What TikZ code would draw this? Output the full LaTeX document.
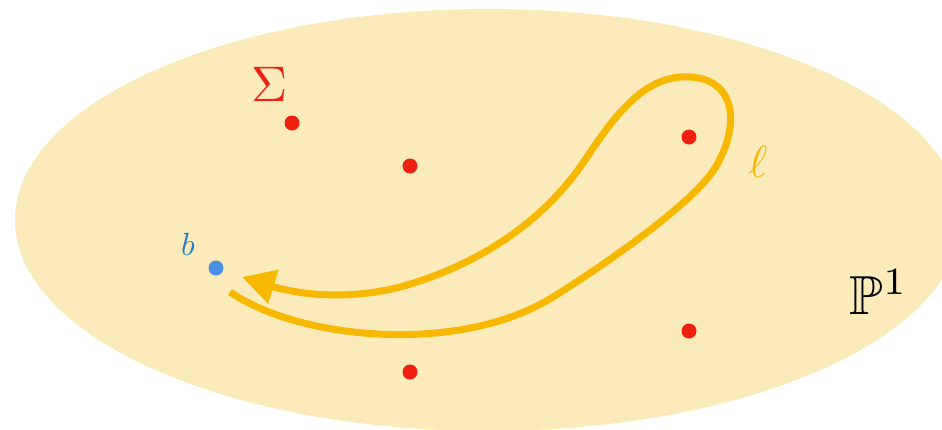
\documentclass[tikz,border=0pt]{standalone}
\usepackage{amsmath, amssymb}
\usepackage{graphicx}
\usepackage{tikz}
\usetikzlibrary{arrows.meta,positioning}

\definecolor{sheet}{HTML}{FCEBBA}
\definecolor{loopcol}{HTML}{F6B800}
\definecolor{branch}{HTML}{EE2010}
\definecolor{basept}{HTML}{4A90E2}
\definecolor{baselbl}{HTML}{1F7EC1}

\begin{document}
\begin{tikzpicture}[x=1pt, y=-1pt,
    pt/.style={circle, fill=branch, inner sep=0pt, minimum size=15pt},
    lbl/.style={inner sep=0pt}]
    \useasboundingbox (0,0) rectangle (942,429);
    \fill[sheet] (488,220) ellipse [x radius=473, y radius=211];

    \node[pt] (s1) at (292,123) {};
    \node[pt] (s2) at (410,166) {};
    \node[pt] (s3) at (689,137) {};
    \node[pt] (s4) at (689,331) {};
    \node[pt] (s5) at (410,372) {};
    \node[pt, fill=basept] (b) at (216,268) {};

    \node[lbl, text=branch] (sigma) at (270,84) {\scalebox{5}{$\Sigma$}};
    \node[lbl, text=baselbl] (blbl) at (188,244) {\scalebox{3.2}{$b$}};
    \node[lbl, text=loopcol] (ell) at (758,162) {\scalebox{4.5}{$\ell$}};
    \node[lbl] (P) at (879,292) {\scalebox{5.5}{$\mathbb{P}^1$}};

    \coordinate (start) at (230,292);
    \coordinate (tip) at (242,277);
    \draw[loopcol, line width=7pt, -{Triangle[length=33pt, width=34pt]}]
        (start) .. controls (300,340) and (460,355) .. (553,297)
        .. controls (620,255) and (695,200) .. (715,168)
        .. controls (738,131) and (740,80) .. (690,77)
        .. controls (645,74) and (615,115) .. (585,160)
        .. controls (545,220) and (480,265) .. (400,287)
        .. controls (350,300) and (300,295) .. (tip);
\end{tikzpicture}
\end{document}
